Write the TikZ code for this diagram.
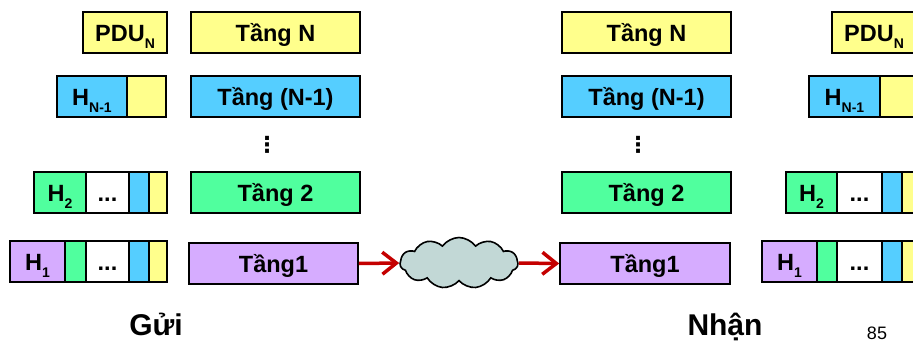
\documentclass[tikz,border=0pt]{standalone}
\usepackage{fontspec}
\setmainfont{Liberation Sans}
\newfontfamily\dejavu{DejaVu Sans}
\usetikzlibrary{shapes.symbols,arrows.meta}
\definecolor{cyel}{RGB}{255,255,140}
\definecolor{cblu}{RGB}{85,206,255}
\definecolor{cgrn}{RGB}{80,255,158}
\definecolor{cpur}{RGB}{214,172,255}
\definecolor{ccld}{RGB}{194,216,214}
\definecolor{cred}{RGB}{196,0,0}
\newcommand\sbs[1]{\raisebox{-0.3em}{\fontsize{14}{14}\selectfont #1}}
\newcommand\seg[6]{\node[box, fill=#5, minimum width={#3-#2}] (#1) at ({(#2+#3)/2},#4) {#6};}
\begin{document}
\begin{tikzpicture}[x=1pt,y=-1pt,
  box/.style={draw, line width=1.6pt, minimum height=41, inner sep=0pt,
    font=\fontsize{23.5}{23.5}\selectfont\bfseries, text height=18.5pt, text depth=0pt},
  vdts/.style={font=\dejavu\bfseries\fontsize{22}{22}\selectfont, inner sep=0pt},
  flow/.style={draw=cred, line width=3.5pt, -{Straight Barb[length=14pt,width=22pt,line width=3.5pt]}}]
\clip (0,0) rectangle (913,343);
\useasboundingbox (0,0) rectangle (913,343);
% ---------- sender ----------
\seg{lpdu}{83}{167}{32.5}{cyel}{PDU\sbs{N}}
\seg{ltN}{191}{360}{32.5}{cyel}{Tầng N}
\seg{lh3a}{57}{127}{96.5}{cblu}{H\sbs{N-1}}
\seg{lh3b}{127}{166}{96.5}{cyel}{}
\seg{ltN1}{191}{360}{96.5}{cblu}{Tầng (N-1)}
\node[vdts] (ldots) at (267,145) {⋮};
\seg{lh2a}{34}{86}{192.5}{cgrn}{H\sbs{2}}
\seg{lh2b}{86}{129}{192.5}{white}{...}
\seg{lh2c}{129}{149}{192.5}{cblu}{}
\seg{lh2d}{149}{167}{192.5}{cyel}{}
\seg{lt2}{191}{360}{192.5}{cgrn}{Tầng 2}
\seg{lh1a}{10}{65}{261.5}{cpur}{H\sbs{1}}
\seg{lh1b}{65}{86}{261.5}{cgrn}{}
\seg{lh1c}{86}{129}{261.5}{white}{...}
\seg{lh1d}{129}{149}{261.5}{cblu}{}
\seg{lh1e}{149}{167}{261.5}{cyel}{}
\seg{lt1}{189}{358}{263.5}{cpur}{Tầng1}
\node[font=\fontsize{30}{30}\selectfont\bfseries, anchor=base] (gui) at (156,335) {Gửi};
% ---------- receiver ----------
\seg{rtN}{562}{731}{32.5}{cyel}{Tầng N}
\seg{rpdu}{832}{916}{32.5}{cyel}{PDU\sbs{N}}
\seg{rtN1}{562}{731}{96.5}{cblu}{Tầng (N-1)}
\seg{rh3a}{809}{880}{96.5}{cblu}{H\sbs{N-1}}
\seg{rh3b}{880}{919}{96.5}{cyel}{}
\node[vdts] (rdots) at (638,145) {⋮};
\seg{rt2}{562}{731}{192.5}{cgrn}{Tầng 2}
\seg{rh2a}{786}{837}{192.5}{cgrn}{H\sbs{2}}
\seg{rh2b}{837}{882}{192.5}{white}{...}
\seg{rh2c}{882}{902}{192.5}{cblu}{}
\seg{rh2d}{902}{920}{192.5}{cyel}{}
\seg{rt1}{560}{730}{263.5}{cpur}{Tầng1}
\seg{rh1a}{762}{817}{261.5}{cpur}{H\sbs{1}}
\seg{rh1b}{817}{837}{261.5}{cgrn}{}
\seg{rh1c}{837}{882}{261.5}{white}{...}
\seg{rh1d}{882}{902}{261.5}{cblu}{}
\seg{rh1e}{902}{920}{261.5}{cyel}{}
\node[font=\fontsize{30}{30}\selectfont\bfseries, anchor=base] (nhan) at (725,335) {Nhận};
\node[font=\fontsize{18}{18}\selectfont, anchor=base] (page) at (877,339) {85};
% ---------- network ----------
\node[cloud, cloud puffs=11, cloud puff arc=110, cloud ignores aspect, draw, line width=1.6pt,
  fill=ccld, minimum width=118, minimum height=51, inner sep=0pt] (net) at (459,263) {};
\draw[flow] (lt1.east) -- (net.west);
\draw[flow] (net.east) -- (rt1.west);
\end{tikzpicture}
\end{document}
